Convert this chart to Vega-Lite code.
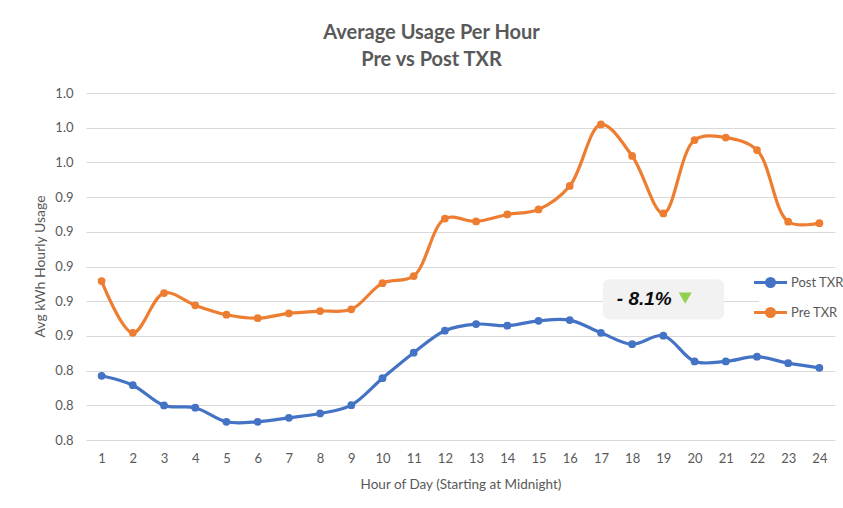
{
  "$schema": "https://vega.github.io/schema/vega-lite/v6.json",
  "width": 749,
  "height": 347,
  "autosize": {"type": "none"},
  "padding": {"left": 86, "top": 93, "right": 8, "bottom": 68},
  "background": "white",
  "config": {"view": {"stroke": null}, "font": "Lato", "axis": {"labelOverlap": false, "labelFlush": false}},
  "title": {
    "text": ["Average Usage Per Hour", "Pre vs Post TXR"],
    "fontSize": 20,
    "fontWeight": "bold",
    "color": "#595959",
    "lineHeight": 27,
    "offset": 17,
    "dx": -29,
    "anchor": "middle",
    "font": "Lato"
  },
  "datasets": {
    "usage": [
      {"hour": 1, "series": "Post TXR", "value": 0.8370},
      {"hour": 2, "series": "Post TXR", "value": 0.8316},
      {"hour": 3, "series": "Post TXR", "value": 0.8199},
      {"hour": 4, "series": "Post TXR", "value": 0.8186},
      {"hour": 5, "series": "Post TXR", "value": 0.8105},
      {"hour": 6, "series": "Post TXR", "value": 0.8105},
      {"hour": 7, "series": "Post TXR", "value": 0.8128},
      {"hour": 8, "series": "Post TXR", "value": 0.8153},
      {"hour": 9, "series": "Post TXR", "value": 0.8201},
      {"hour": 10, "series": "Post TXR", "value": 0.8356},
      {"hour": 11, "series": "Post TXR", "value": 0.8503},
      {"hour": 12, "series": "Post TXR", "value": 0.8630},
      {"hour": 13, "series": "Post TXR", "value": 0.8668},
      {"hour": 14, "series": "Post TXR", "value": 0.8659},
      {"hour": 15, "series": "Post TXR", "value": 0.8687},
      {"hour": 16, "series": "Post TXR", "value": 0.8691},
      {"hour": 17, "series": "Post TXR", "value": 0.8618},
      {"hour": 18, "series": "Post TXR", "value": 0.8552},
      {"hour": 19, "series": "Post TXR", "value": 0.8601},
      {"hour": 20, "series": "Post TXR", "value": 0.8453},
      {"hour": 21, "series": "Post TXR", "value": 0.8453},
      {"hour": 22, "series": "Post TXR", "value": 0.8480},
      {"hour": 23, "series": "Post TXR", "value": 0.8443},
      {"hour": 24, "series": "Post TXR", "value": 0.8416},
      {"hour": 1, "series": "Pre TXR", "value": 0.8916},
      {"hour": 2, "series": "Pre TXR", "value": 0.8618},
      {"hour": 3, "series": "Pre TXR", "value": 0.8847},
      {"hour": 4, "series": "Pre TXR", "value": 0.8776},
      {"hour": 5, "series": "Pre TXR", "value": 0.8722},
      {"hour": 6, "series": "Pre TXR", "value": 0.8702},
      {"hour": 7, "series": "Pre TXR", "value": 0.8730},
      {"hour": 8, "series": "Pre TXR", "value": 0.8743},
      {"hour": 9, "series": "Pre TXR", "value": 0.8753},
      {"hour": 10, "series": "Pre TXR", "value": 0.8904},
      {"hour": 11, "series": "Pre TXR", "value": 0.8945},
      {"hour": 12, "series": "Pre TXR", "value": 0.9276},
      {"hour": 13, "series": "Pre TXR", "value": 0.9260},
      {"hour": 14, "series": "Pre TXR", "value": 0.9300},
      {"hour": 15, "series": "Pre TXR", "value": 0.9329},
      {"hour": 16, "series": "Pre TXR", "value": 0.9464},
      {"hour": 17, "series": "Pre TXR", "value": 0.9819},
      {"hour": 18, "series": "Pre TXR", "value": 0.9637},
      {"hour": 19, "series": "Pre TXR", "value": 0.9306},
      {"hour": 20, "series": "Pre TXR", "value": 0.9729},
      {"hour": 21, "series": "Pre TXR", "value": 0.9743},
      {"hour": 22, "series": "Pre TXR", "value": 0.9671},
      {"hour": 23, "series": "Pre TXR", "value": 0.9258},
      {"hour": 24, "series": "Pre TXR", "value": 0.9250}
    ],
    "note": [{"label": "- 8.1%"}]
  },
  "layer": [
    {
      "data": {"name": "usage"},
      "mark": {"type": "line", "interpolate": "catmull-rom", "strokeWidth": 3.2},
      "encoding": {
        "x": {
          "field": "hour", "type": "quantitative",
          "scale": {"domain": [0.5, 24.5], "nice": false, "zero": false},
          "axis": {
            "values": [1,2,3,4,5,6,7,8,9,10,11,12,13,14,15,16,17,18,19,20,21,22,23,24],
            "tickCount": 30,
            "format": "d", "grid": false, "domain": false, "ticks": false,
            "labelOverlap": false,
            "labelFontSize": 13, "labelColor": "#595959", "labelPadding": 12,
            "title": "Hour of Day (Starting at Midnight)",
            "titleFontSize": 13.5, "titleFontWeight": "normal", "titleColor": "#595959",
            "titleBaseline": "middle", "titleY": 44
          }
        },
        "y": {
          "field": "value", "type": "quantitative",
          "scale": {"domain": [0.8, 1.0], "nice": false, "zero": false},
          "axis": {
            "values": [0.8, 0.82, 0.84, 0.86, 0.88, 0.9, 0.92, 0.94, 0.96, 0.98, 1.0],
            "tickCount": 20,
            "format": ".1f", "grid": true, "gridColor": "#D9D9D9", "gridWidth": 1,
            "domain": false, "ticks": false,
            "labelOverlap": false,
            "labelFontSize": 13, "labelColor": "#595959", "labelPadding": 13,
            "title": "Avg kWh Hourly Usage",
            "titleFontSize": 14, "titleFontWeight": "normal", "titleColor": "#595959",
            "titleAngle": -90, "titleBaseline": "middle", "titleX": -46, "titleY": 173
          }
        },
        "color": {
          "field": "series", "type": "nominal",
          "scale": {"domain": ["Post TXR", "Pre TXR"], "range": ["#4472C4", "#ED7D31"]},
          "legend": {
            "orient": "none", "legendX": 673, "legendY": 178, "title": null,
            "symbolType": "M-1.65,0L1.65,0M-0.4,0A0.4,0.4,0,1,0,0.4,0A0.4,0.4,0,1,0,-0.4,0Z",
            "symbolSize": 400, "symbolStrokeWidth": 3,
            "labelFontSize": 13, "labelColor": "#595959", "labelOffset": 9,
            "rowPadding": 8, "fillColor": "white",
            "encode": {"symbols": {"update": {"fill": {"scale": "color", "field": "value"}, "stroke": {"scale": "color", "field": "value"}}}}
          }
        }
      }
    },
    {
      "data": {"name": "usage"},
      "mark": {"type": "point", "filled": true, "size": 60, "opacity": 1},
      "encoding": {
        "x": {"field": "hour", "type": "quantitative"},
        "y": {"field": "value", "type": "quantitative"},
        "color": {"field": "series", "type": "nominal", "legend": null}
      }
    },
    {
      "data": {"name": "note"},
      "mark": {"type": "rect", "fill": "#F2F2F2", "cornerRadius": 7},
      "encoding": {
        "x": {"datum": 17.06, "type": "quantitative"},
        "x2": {"datum": 20.95},
        "y": {"datum": 0.8926, "type": "quantitative"},
        "y2": {"datum": 0.8695}
      }
    },
    {
      "data": {"name": "note"},
      "mark": {"type": "text", "font": "Liberation Sans", "fontSize": 19, "fontWeight": "bold", "fontStyle": "italic", "color": "#0D0D0D", "align": "left", "baseline": "middle"},
      "encoding": {
        "x": {"datum": 17.51, "type": "quantitative"},
        "y": {"datum": 0.881, "type": "quantitative"},
        "text": {"field": "label"}
      }
    },
    {
      "data": {"name": "note"},
      "mark": {"type": "point", "shape": "triangle-down", "filled": true, "color": "#92D050", "size": 170, "opacity": 1},
      "encoding": {
        "x": {"datum": 19.7, "type": "quantitative"},
        "y": {"datum": 0.8818, "type": "quantitative"}
      }
    }
  ]
}
